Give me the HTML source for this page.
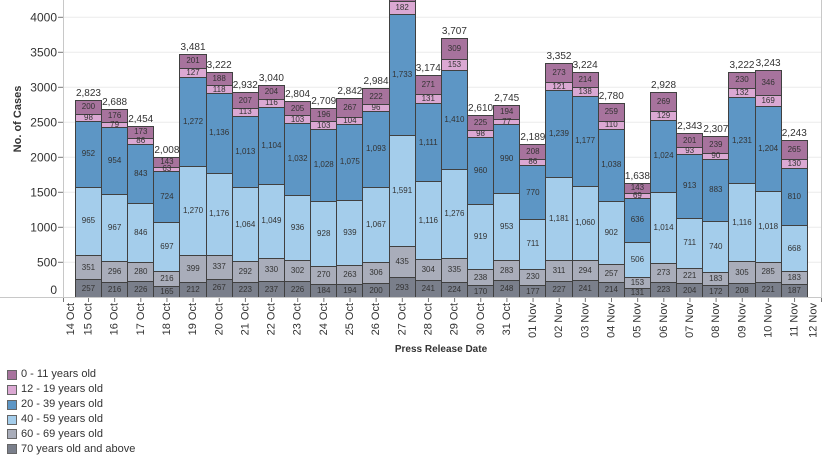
<!DOCTYPE html>
<html><head><meta charset="utf-8">
<style>
html,body{margin:0;padding:0;background:#fff;}
body{width:830px;height:468px;position:relative;overflow:hidden;font-family:"Liberation Sans",Arial,sans-serif;color:#333;}
svg.bg{position:absolute;left:0;top:0;}
#bars{position:absolute;left:74.9px;top:0;height:297.3px;display:flex;align-items:flex-end;}
.bar{flex:none;width:27.15px;margin-right:-1px;position:relative;display:flex;flex-direction:column-reverse;}
.s{box-sizing:border-box;height:calc(var(--v) * 0.07px);border:1px solid #404040;border-bottom:none;display:flex;align-items:center;justify-content:center;font-size:8px;line-height:1;color:#333;overflow:visible;white-space:nowrap;}
.a{background:#a7739d}.b{background:#dba8d3}.c{background:#5d96c5}.d{background:#a4cdeb}.e{background:#a9adba}.f{background:#7a7f8b}
.t{position:absolute;bottom:100%;left:50%;transform:translateX(-50%);margin-bottom:1px;font-size:10px;line-height:1;white-space:nowrap;color:#333;}
.lg{position:absolute;left:7px;font-size:11px;line-height:1;color:#333;display:flex;align-items:center;}
.lg i{display:inline-block;width:8px;height:8px;border:1px solid #666;margin-right:4px;}
</style></head><body>
<svg class="bg" width="830" height="468" xmlns="http://www.w3.org/2000/svg" font-family="Liberation Sans, Arial, sans-serif">
<g stroke="#ececec" stroke-width="1">
<line x1="64" y1="262.3" x2="821" y2="262.3"/>
<line x1="64" y1="227.3" x2="821" y2="227.3"/>
<line x1="64" y1="192.3" x2="821" y2="192.3"/>
<line x1="64" y1="157.3" x2="821" y2="157.3"/>
<line x1="64" y1="122.3" x2="821" y2="122.3"/>
<line x1="64" y1="87.3" x2="821" y2="87.3"/>
<line x1="64" y1="52.3" x2="821" y2="52.3"/>
<line x1="64" y1="17.3" x2="821" y2="17.3"/>
</g>
<line x1="63.5" y1="0" x2="63.5" y2="298" stroke="#c8c8c8"/>
<line x1="821.5" y1="0" x2="821.5" y2="298" stroke="#c8c8c8"/>
<line x1="0" y1="297.5" x2="822" y2="297.5" stroke="#c8c8c8"/>
<g stroke="#777">
<line x1="58" y1="262.3" x2="63" y2="262.3"/><line x1="58" y1="227.3" x2="63" y2="227.3"/><line x1="58" y1="192.3" x2="63" y2="192.3"/><line x1="58" y1="157.3" x2="63" y2="157.3"/><line x1="58" y1="122.3" x2="63" y2="122.3"/><line x1="58" y1="87.3" x2="63" y2="87.3"/><line x1="58" y1="52.3" x2="63" y2="52.3"/><line x1="58" y1="17.3" x2="63" y2="17.3"/>
</g>
<g font-size="12" fill="#333" text-anchor="end">
<text x="57" y="294">0</text>
<text x="57" y="266.5">500</text>
<text x="57" y="231.5">1000</text>
<text x="57" y="196.5">1500</text>
<text x="57" y="161.5">2000</text>
<text x="57" y="126.5">2500</text>
<text x="57" y="91.5">3000</text>
<text x="57" y="56.5">3500</text>
<text x="57" y="21.5">4000</text>
</g>
<text transform="translate(21,119) rotate(-90)" font-size="11" font-weight="bold" fill="#333" text-anchor="middle">No. of Cases</text>
<text x="441" y="352" font-size="10" font-weight="bold" fill="#333" text-anchor="middle">Press Release Date</text>
<g stroke="#777">
<line x1="63.5" y1="298" x2="63.5" y2="302"/><line x1="821.5" y1="298" x2="821.5" y2="302"/>
<line x1="88.5" y1="298" x2="88.5" y2="302"/><line x1="114.65" y1="298" x2="114.65" y2="302"/><line x1="140.8" y1="298" x2="140.8" y2="302"/><line x1="166.95" y1="298" x2="166.95" y2="302"/><line x1="193.1" y1="298" x2="193.1" y2="302"/><line x1="219.25" y1="298" x2="219.25" y2="302"/><line x1="245.4" y1="298" x2="245.4" y2="302"/><line x1="271.55" y1="298" x2="271.55" y2="302"/><line x1="297.7" y1="298" x2="297.7" y2="302"/><line x1="323.85" y1="298" x2="323.85" y2="302"/><line x1="350" y1="298" x2="350" y2="302"/><line x1="376.15" y1="298" x2="376.15" y2="302"/><line x1="402.3" y1="298" x2="402.3" y2="302"/><line x1="428.45" y1="298" x2="428.45" y2="302"/><line x1="454.6" y1="298" x2="454.6" y2="302"/><line x1="480.75" y1="298" x2="480.75" y2="302"/><line x1="506.9" y1="298" x2="506.9" y2="302"/><line x1="533.05" y1="298" x2="533.05" y2="302"/><line x1="559.2" y1="298" x2="559.2" y2="302"/><line x1="585.35" y1="298" x2="585.35" y2="302"/><line x1="611.5" y1="298" x2="611.5" y2="302"/><line x1="637.65" y1="298" x2="637.65" y2="302"/><line x1="663.8" y1="298" x2="663.8" y2="302"/><line x1="689.95" y1="298" x2="689.95" y2="302"/><line x1="716.1" y1="298" x2="716.1" y2="302"/><line x1="742.25" y1="298" x2="742.25" y2="302"/><line x1="768.4" y1="298" x2="768.4" y2="302"/><line x1="794.55" y1="298" x2="794.55" y2="302"/>
</g>
<g font-size="11" fill="#333" text-anchor="end" dominant-baseline="central">
<text transform="translate(71,303) rotate(-90)">14 Oct</text>
<text transform="translate(88.5,303) rotate(-90)">15 Oct</text>
<text transform="translate(114.65,303) rotate(-90)">16 Oct</text>
<text transform="translate(140.8,303) rotate(-90)">17 Oct</text>
<text transform="translate(166.95,303) rotate(-90)">18 Oct</text>
<text transform="translate(193.1,303) rotate(-90)">19 Oct</text>
<text transform="translate(219.25,303) rotate(-90)">20 Oct</text>
<text transform="translate(245.4,303) rotate(-90)">21 Oct</text>
<text transform="translate(271.55,303) rotate(-90)">22 Oct</text>
<text transform="translate(297.7,303) rotate(-90)">23 Oct</text>
<text transform="translate(323.85,303) rotate(-90)">24 Oct</text>
<text transform="translate(350,303) rotate(-90)">25 Oct</text>
<text transform="translate(376.15,303) rotate(-90)">26 Oct</text>
<text transform="translate(402.3,303) rotate(-90)">27 Oct</text>
<text transform="translate(428.45,303) rotate(-90)">28 Oct</text>
<text transform="translate(454.6,303) rotate(-90)">29 Oct</text>
<text transform="translate(480.75,303) rotate(-90)">30 Oct</text>
<text transform="translate(506.9,303) rotate(-90)">31 Oct</text>
<text transform="translate(533.05,303) rotate(-90)">01 Nov</text>
<text transform="translate(559.2,303) rotate(-90)">02 Nov</text>
<text transform="translate(585.35,303) rotate(-90)">03 Nov</text>
<text transform="translate(611.5,303) rotate(-90)">04 Nov</text>
<text transform="translate(637.65,303) rotate(-90)">05 Nov</text>
<text transform="translate(663.8,303) rotate(-90)">06 Nov</text>
<text transform="translate(689.95,303) rotate(-90)">07 Nov</text>
<text transform="translate(716.1,303) rotate(-90)">08 Nov</text>
<text transform="translate(742.25,303) rotate(-90)">09 Nov</text>
<text transform="translate(768.4,303) rotate(-90)">10 Nov</text>
<text transform="translate(794.55,303) rotate(-90)">11 Nov</text>
<text transform="translate(813.5,303) rotate(-90)">12 Nov</text>
</g>
</svg>

<div id="bars">
<div class="bar"><div class="s f" style="--v:257">257</div><div class="s e" style="--v:351">351</div><div class="s d" style="--v:965">965</div><div class="s c" style="--v:952">952</div><div class="s b" style="--v:98">98</div><div class="s a" style="--v:200">200</div><span class="t">2,823</span></div>
<div class="bar"><div class="s f" style="--v:216">216</div><div class="s e" style="--v:296">296</div><div class="s d" style="--v:967">967</div><div class="s c" style="--v:954">954</div><div class="s b" style="--v:79">79</div><div class="s a" style="--v:176">176</div><span class="t">2,688</span></div>
<div class="bar"><div class="s f" style="--v:226">226</div><div class="s e" style="--v:280">280</div><div class="s d" style="--v:846">846</div><div class="s c" style="--v:843">843</div><div class="s b" style="--v:86">86</div><div class="s a" style="--v:173">173</div><span class="t">2,454</span></div>
<div class="bar"><div class="s f" style="--v:165">165</div><div class="s e" style="--v:216">216</div><div class="s d" style="--v:697">697</div><div class="s c" style="--v:724">724</div><div class="s b" style="--v:63">63</div><div class="s a" style="--v:143">143</div><span class="t">2,008</span></div>
<div class="bar"><div class="s f" style="--v:212">212</div><div class="s e" style="--v:399">399</div><div class="s d" style="--v:1270">1,270</div><div class="s c" style="--v:1272">1,272</div><div class="s b" style="--v:127">127</div><div class="s a" style="--v:201">201</div><span class="t">3,481</span></div>
<div class="bar"><div class="s f" style="--v:267">267</div><div class="s e" style="--v:337">337</div><div class="s d" style="--v:1176">1,176</div><div class="s c" style="--v:1136">1,136</div><div class="s b" style="--v:118">118</div><div class="s a" style="--v:188">188</div><span class="t">3,222</span></div>
<div class="bar"><div class="s f" style="--v:223">223</div><div class="s e" style="--v:292">292</div><div class="s d" style="--v:1064">1,064</div><div class="s c" style="--v:1013">1,013</div><div class="s b" style="--v:113">113</div><div class="s a" style="--v:227">207</div><span class="t">2,932</span></div>
<div class="bar"><div class="s f" style="--v:237">237</div><div class="s e" style="--v:330">330</div><div class="s d" style="--v:1049">1,049</div><div class="s c" style="--v:1104">1,104</div><div class="s b" style="--v:116">116</div><div class="s a" style="--v:204">204</div><span class="t">3,040</span></div>
<div class="bar"><div class="s f" style="--v:226">226</div><div class="s e" style="--v:302">302</div><div class="s d" style="--v:936">936</div><div class="s c" style="--v:1032">1,032</div><div class="s b" style="--v:103">103</div><div class="s a" style="--v:205">205</div><span class="t">2,804</span></div>
<div class="bar"><div class="s f" style="--v:184">184</div><div class="s e" style="--v:270">270</div><div class="s d" style="--v:928">928</div><div class="s c" style="--v:1028">1,028</div><div class="s b" style="--v:103">103</div><div class="s a" style="--v:196">196</div><span class="t">2,709</span></div>
<div class="bar"><div class="s f" style="--v:194">194</div><div class="s e" style="--v:263">263</div><div class="s d" style="--v:939">939</div><div class="s c" style="--v:1075">1,075</div><div class="s b" style="--v:104">104</div><div class="s a" style="--v:267">267</div><span class="t">2,842</span></div>
<div class="bar"><div class="s f" style="--v:200">200</div><div class="s e" style="--v:306">306</div><div class="s d" style="--v:1067">1,067</div><div class="s c" style="--v:1093">1,093</div><div class="s b" style="--v:96">96</div><div class="s a" style="--v:222">222</div><span class="t">2,984</span></div>
<div class="bar"><div class="s f" style="--v:293">293</div><div class="s e" style="--v:435">435</div><div class="s d" style="--v:1591">1,591</div><div class="s c" style="--v:1733">1,733</div><div class="s b" style="--v:182">182</div><div class="s a" style="--v:250">250</div><span class="t">4,484</span></div>
<div class="bar"><div class="s f" style="--v:241">241</div><div class="s e" style="--v:304">304</div><div class="s d" style="--v:1116">1,116</div><div class="s c" style="--v:1111">1,111</div><div class="s b" style="--v:131">131</div><div class="s a" style="--v:271">271</div><span class="t">3,174</span></div>
<div class="bar"><div class="s f" style="--v:224">224</div><div class="s e" style="--v:335">335</div><div class="s d" style="--v:1276">1,276</div><div class="s c" style="--v:1410">1,410</div><div class="s b" style="--v:153">153</div><div class="s a" style="--v:309">309</div><span class="t">3,707</span></div>
<div class="bar"><div class="s f" style="--v:170">170</div><div class="s e" style="--v:238">238</div><div class="s d" style="--v:919">919</div><div class="s c" style="--v:960">960</div><div class="s b" style="--v:98">98</div><div class="s a" style="--v:225">225</div><span class="t">2,610</span></div>
<div class="bar"><div class="s f" style="--v:248">248</div><div class="s e" style="--v:283">283</div><div class="s d" style="--v:953">953</div><div class="s c" style="--v:990">990</div><div class="s b" style="--v:77">77</div><div class="s a" style="--v:194">194</div><span class="t">2,745</span></div>
<div class="bar"><div class="s f" style="--v:177">177</div><div class="s e" style="--v:230">230</div><div class="s d" style="--v:711">711</div><div class="s c" style="--v:770">770</div><div class="s b" style="--v:93">86</div><div class="s a" style="--v:208">208</div><span class="t">2,189</span></div>
<div class="bar"><div class="s f" style="--v:227">227</div><div class="s e" style="--v:311">311</div><div class="s d" style="--v:1181">1,181</div><div class="s c" style="--v:1239">1,239</div><div class="s b" style="--v:121">121</div><div class="s a" style="--v:273">273</div><span class="t">3,352</span></div>
<div class="bar"><div class="s f" style="--v:241">241</div><div class="s e" style="--v:294">294</div><div class="s d" style="--v:1060">1,060</div><div class="s c" style="--v:1277">1,177</div><div class="s b" style="--v:138">138</div><div class="s a" style="--v:214">214</div><span class="t">3,224</span></div>
<div class="bar"><div class="s f" style="--v:214">214</div><div class="s e" style="--v:257">257</div><div class="s d" style="--v:902">902</div><div class="s c" style="--v:1038">1,038</div><div class="s b" style="--v:110">110</div><div class="s a" style="--v:259">259</div><span class="t">2,780</span></div>
<div class="bar"><div class="s f" style="--v:131">131</div><div class="s e" style="--v:153">153</div><div class="s d" style="--v:506">506</div><div class="s c" style="--v:636">636</div><div class="s b" style="--v:69">69</div><div class="s a" style="--v:143">143</div><span class="t">1,638</span></div>
<div class="bar"><div class="s f" style="--v:223">223</div><div class="s e" style="--v:273">273</div><div class="s d" style="--v:1014">1,014</div><div class="s c" style="--v:1020">1,024</div><div class="s b" style="--v:129">129</div><div class="s a" style="--v:269">269</div><span class="t">2,928</span></div>
<div class="bar"><div class="s f" style="--v:204">204</div><div class="s e" style="--v:221">221</div><div class="s d" style="--v:711">711</div><div class="s c" style="--v:913">913</div><div class="s b" style="--v:93">93</div><div class="s a" style="--v:201">201</div><span class="t">2,343</span></div>
<div class="bar"><div class="s f" style="--v:172">172</div><div class="s e" style="--v:183">183</div><div class="s d" style="--v:740">740</div><div class="s c" style="--v:883">883</div><div class="s b" style="--v:90">90</div><div class="s a" style="--v:239">239</div><span class="t">2,307</span></div>
<div class="bar"><div class="s f" style="--v:208">208</div><div class="s e" style="--v:305">305</div><div class="s d" style="--v:1116">1,116</div><div class="s c" style="--v:1231">1,231</div><div class="s b" style="--v:132">132</div><div class="s a" style="--v:230">230</div><span class="t">3,222</span></div>
<div class="bar"><div class="s f" style="--v:221">221</div><div class="s e" style="--v:285">285</div><div class="s d" style="--v:1018">1,018</div><div class="s c" style="--v:1204">1,204</div><div class="s b" style="--v:169">169</div><div class="s a" style="--v:346">346</div><span class="t">3,243</span></div>
<div class="bar"><div class="s f" style="--v:187">187</div><div class="s e" style="--v:183">183</div><div class="s d" style="--v:668">668</div><div class="s c" style="--v:810">810</div><div class="s b" style="--v:130">130</div><div class="s a" style="--v:265">265</div><span class="t">2,243</span></div>
</div>

<div class="lg" style="top:369px"><i style="background:#a7739d"></i>0 - 11 years old</div>
<div class="lg" style="top:384px"><i style="background:#dba8d3"></i>12 - 19 years old</div>
<div class="lg" style="top:399px"><i style="background:#5d96c5"></i>20 - 39 years old</div>
<div class="lg" style="top:414px"><i style="background:#a4cdeb"></i>40 - 59 years old</div>
<div class="lg" style="top:428.5px"><i style="background:#a9adba"></i>60 - 69 years old</div>
<div class="lg" style="top:443.5px"><i style="background:#7a7f8b"></i>70 years old and above</div>
</body></html>
